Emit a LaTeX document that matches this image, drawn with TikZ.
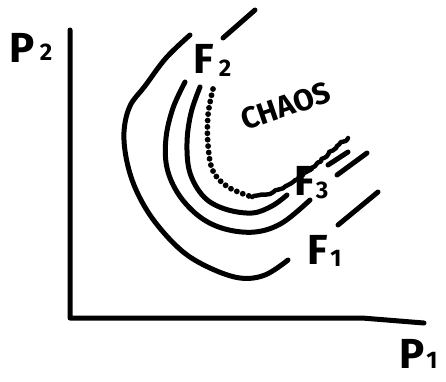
\documentclass[tikz,border=0pt]{standalone}
\usepackage{fontspec}
\setmainfont{Fira Sans}
\usetikzlibrary{decorations.pathmorphing}
\tikzset{
  pen/.style={line width=5pt, line cap=round, line join=round},
  dots/.style={line width=5.8pt, line cap=round, dash pattern=on 0pt off 6.4pt},
  wiggle/.style={pen, line width=4.4pt, decorate, decoration={random steps, segment length=3pt, amplitude=1.1pt}},
  lbl/.style={font=\bfseries\fontsize{42}{42}\selectfont, inner sep=0pt},
  sub/.style={font=\bfseries\fontsize{24}{24}\selectfont, inner sep=0pt},
}
\begin{document}
\begin{tikzpicture}[x=1pt, y=-1pt]
\useasboundingbox (0,0) rectangle (446,381);
% axes
\coordinate (top) at (70,30);
\coordinate (orig) at (70,318);
\coordinate (kink) at (362,318);
\coordinate (right) at (424,323);
\draw[pen] (top) -- (orig) -- (kink) -- (right);
% outer curve F1
\draw[pen] plot[smooth, tension=0.6] coordinates {(190,35) (166,58) (145,86) (130,106) (124,132) (127,162) (137,192) (155,222) (182,251) (210,268) (240,278) (265,275) (288,260)};
\draw[pen] (338,225) -- (378,192);
\draw[pen] (223,38) -- (255,10);
% second curve
\draw[pen] plot[smooth, tension=0.6] coordinates {(185,82) (173,108) (166,138) (167,168) (179,195) (200,217) (225,229) (255,232) (282,223) (310,200)};
\draw[pen] (337,175) -- (367,153);
% third curve
\draw[pen] plot[smooth, tension=0.6] coordinates {(200,87) (191,113) (187,143) (190,173) (204,197) (225,209) (252,213) (272,206) (287,195)};
\draw[pen] (328,165) -- (348,152);
% dotted curve
\draw[dots] plot[smooth, tension=0.6] coordinates {(213,89) (208,115) (208,145) (213,171) (228,187) (252,197)};
\draw[wiggle] (252,197) -- (270,194) -- (290,184) -- (308,171) -- (324,158) -- (337,146) -- (348,138);
% labels
\node[lbl] (F2) at (204,59) {F};
\node[sub] (F2s) at (225,68) {2};
\node[lbl] (F3) at (305,181) {F};
\node[sub] (F3s) at (322,190) {3};
\node[lbl] (F1) at (318,250) {F};
\node[sub] (F1s) at (336,258) {1};
\node[font=\bfseries\fontsize{30}{30}\selectfont, inner sep=0pt, rotate=19] (chaos) at (286,106) {CHAOS};
\node[lbl] (P2) at (22,48) {P};
\node[sub] (P2s) at (46,52) {2};
\node[lbl] (P1) at (412,354) {P};
\node[sub] (P1s) at (432,360) {1};
\end{tikzpicture}
\end{document}
